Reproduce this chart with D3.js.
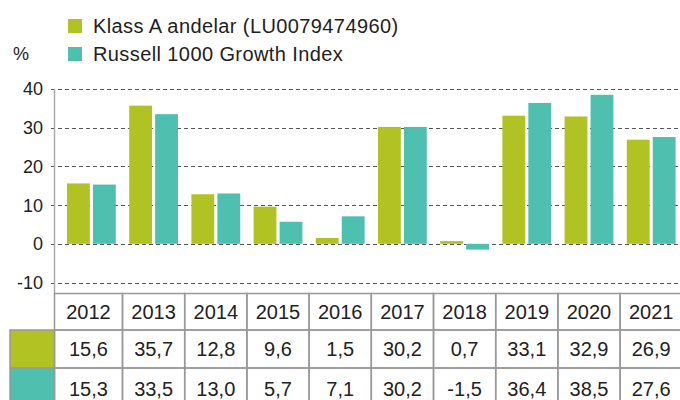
<!DOCTYPE html>
<html><head><meta charset="utf-8">
<script src="https://cdn.jsdelivr.net/npm/d3@7"></script>
<style>body{margin:0;background:#fff;}svg{display:block;font-family:"Liberation Sans",Arial,sans-serif;}</style>
</head><body><svg id="c" width="680" height="400"></svg>
<script>
const years = ["2012","2013","2014","2015","2016","2017","2018","2019","2020","2021"];
const fundValues = [15.6,35.7,12.8,9.6,1.5,30.2,0.7,33.1,32.9,26.9];
const indexValues = [15.3,33.5,13.0,5.7,7.1,30.2,-1.5,36.4,38.5,27.6];
const seriesNames = ["Klass A andelar (LU0079474960)","Russell 1000 Growth Index"];
const yTicks = [-10,0,10,20,30,40];
const colors = ["#b0c323","#4fbfb0"];

const svg = d3.select("#c");
const x = d3.scaleBand().domain(years).range([60.3, 682.3]);
const x1 = d3.scaleBand().domain([0,1]).range([6.7, 55.5]).paddingInner(0.12);
const y = d3.scaleLinear().domain([-10,40]).range([282.5, 89]);
const fmt = v => d3.format(".1f")(v).replace(".", ",").replace("−","-");

// gridlines
svg.append("g").selectAll("line").data(yTicks).join("line")
  .attr("x1", 51).attr("x2", 680)
  .attr("y1", d => Math.round(y(d))+0.5).attr("y2", d => Math.round(y(d))+0.5)
  .attr("stroke", "#555").attr("stroke-width", 1).attr("stroke-dasharray", "4,3");

// y tick labels
svg.append("g").selectAll("text").data(yTicks).join("text")
  .attr("x", 43).attr("y", d => y(d)).attr("dy", "0.36em")
  .attr("text-anchor", "end").attr("font-size", 18).attr("fill", "#222")
  .text(d => d);

// bars
const series = [fundValues, indexValues];
series.forEach((vals, si) => {
  svg.append("g").selectAll("rect").data(years).join("rect")
    .attr("x", (d,i) => x(d) + x1(si))
    .attr("width", x1.bandwidth())
    .attr("y", (d,i) => y(Math.max(0, vals[i])))
    .attr("height", (d,i) => Math.abs(y(vals[i]) - y(0)))
    .attr("fill", colors[si]);
});

// y axis line
svg.append("line").attr("x1", 54.5).attr("x2", 54.5).attr("y1", 89).attr("y2", 294)
  .attr("stroke", "#aaa").attr("stroke-width", 1.5);

// table
const rowTop = [293.5, 330, 368, 409];
const tb = svg.append("g");
const cellStroke = "#999";
series.forEach((v, si) => {
  tb.append("rect").attr("x", 10).attr("y", rowTop[si+1]).attr("width", 44.5)
    .attr("height", rowTop[si+2]-rowTop[si+1]).attr("fill", colors[si])
    .attr("stroke", cellStroke).attr("stroke-width", 1.5);
});
years.forEach((yr, i) => {
  const x0 = i === 0 ? 54.5 : x(yr);
  const w = x(yr) + x.bandwidth() - x0;
  for (let r = 0; r < 3; r++) {
    tb.append("rect").attr("x", x0).attr("y", rowTop[r]).attr("width", w)
      .attr("height", rowTop[r+1]-rowTop[r]).attr("fill", "none")
      .attr("stroke", cellStroke).attr("stroke-width", 1.5);
  }
  const cx = x(yr) + x.bandwidth()/2 - (i===0 ? 3 : 0);
  const rowText = [yr, fmt(fundValues[i]), fmt(indexValues[i])];
  rowText.forEach((t, r) => {
    tb.append("text").attr("x", cx).attr("y", (rowTop[r]+rowTop[r+1])/2).attr("dy","0.36em")
      .attr("text-anchor","middle").attr("font-size",20).attr("fill","#222").text(t);
  });
});

// legend
seriesNames.forEach((n, i) => {
  const ly = 26 + i*28;
  svg.append("rect").attr("x", 68).attr("y", ly-7).attr("width", 14).attr("height", 14).attr("fill", colors[i]);
  svg.append("text").attr("x", 93).attr("y", ly).attr("dy","0.36em").attr("font-size",20)
    .attr("letter-spacing", 0.4).attr("fill","#222").text(n);
});
svg.append("text").attr("x", 13).attr("y", 54).attr("dy","0.36em").attr("font-size",18)
  .attr("fill","#222").text("%");
</script></body></html>
